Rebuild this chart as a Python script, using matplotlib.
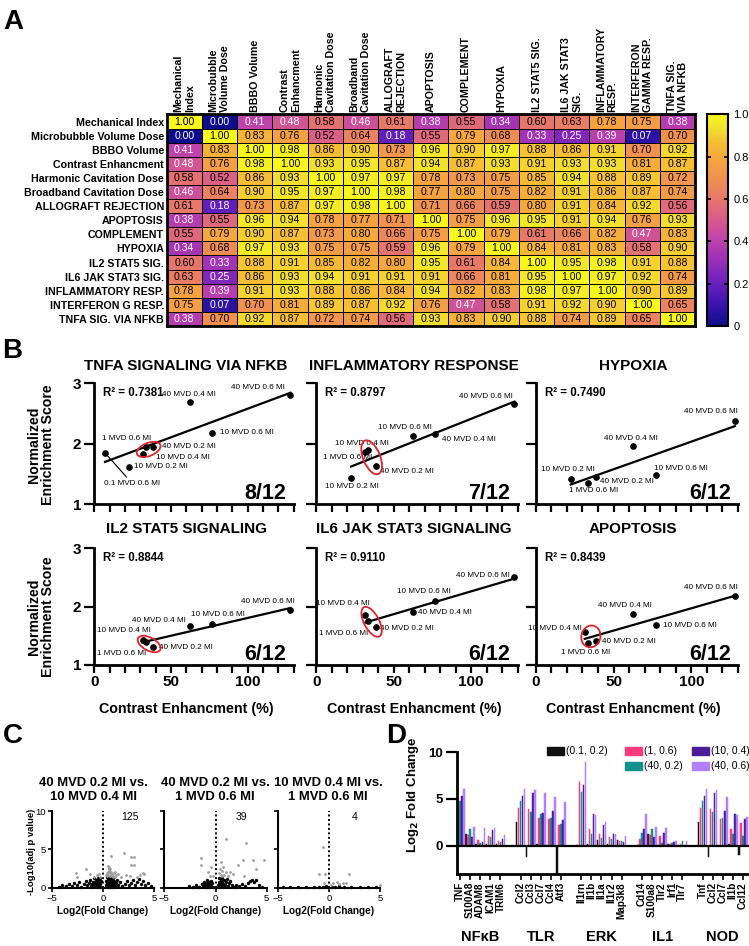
import numpy as np
import matplotlib
matplotlib.use("Agg")
import matplotlib.pyplot as plt
from matplotlib.colors import LinearSegmentedColormap
from matplotlib.patches import Ellipse, Rectangle
from matplotlib.ticker import MultipleLocator
import matplotlib.transforms as mtransforms

plt.rcParams['font.family'] = ['Liberation Sans', 'DejaVu Sans']

# ================= Panel A data =================
heat_rows = ["Mechanical Index", "Microbubble Volume Dose", "BBBO Volume",
             "Contrast Enhancment", "Harmonic Cavitation Dose",
             "Broadband Cavitation Dose", "ALLOGRAFT REJECTION", "APOPTOSIS",
             "COMPLEMENT", "HYPOXIA", "IL2 STAT5 SIG.", "IL6 JAK STAT3 SIG.",
             "INFLAMMATORY RESP.", "INTERFERON G RESP.", "TNFA SIG. VIA NFKB"]
heat_cols = ["Mechanical\nIndex", "Microbubble\nVolume Dose", "BBBO Volume",
             "Contrast\nEnhancment", "Harmonic\nCavitation Dose",
             "Broadband\nCavitation Dose", "ALLOGRAFT\nREJECTION", "APOPTOSIS",
             "COMPLEMENT", "HYPOXIA", "IL2 STAT5 SIG.", "IL6 JAK STAT3\nSIG.",
             "INFLAMMATORY\nRESP.", "INTERFERON\nGAMMA RESP.", "TNFA SIG.\nVIA NFKB"]
corr = np.array([
    [1.00, 0.00, 0.41, 0.48, 0.58, 0.46, 0.61, 0.38, 0.55, 0.34, 0.60, 0.63, 0.78, 0.75, 0.38],
    [0.00, 1.00, 0.83, 0.76, 0.52, 0.64, 0.18, 0.55, 0.79, 0.68, 0.33, 0.25, 0.39, 0.07, 0.70],
    [0.41, 0.83, 1.00, 0.98, 0.86, 0.90, 0.73, 0.96, 0.90, 0.97, 0.88, 0.86, 0.91, 0.70, 0.92],
    [0.48, 0.76, 0.98, 1.00, 0.93, 0.95, 0.87, 0.94, 0.87, 0.93, 0.91, 0.93, 0.93, 0.81, 0.87],
    [0.58, 0.52, 0.86, 0.93, 1.00, 0.97, 0.97, 0.78, 0.73, 0.75, 0.85, 0.94, 0.88, 0.89, 0.72],
    [0.46, 0.64, 0.90, 0.95, 0.97, 1.00, 0.98, 0.77, 0.80, 0.75, 0.82, 0.91, 0.86, 0.87, 0.74],
    [0.61, 0.18, 0.73, 0.87, 0.97, 0.98, 1.00, 0.71, 0.66, 0.59, 0.80, 0.91, 0.84, 0.92, 0.56],
    [0.38, 0.55, 0.96, 0.94, 0.78, 0.77, 0.71, 1.00, 0.75, 0.96, 0.95, 0.91, 0.94, 0.76, 0.93],
    [0.55, 0.79, 0.90, 0.87, 0.73, 0.80, 0.66, 0.75, 1.00, 0.79, 0.61, 0.66, 0.82, 0.47, 0.83],
    [0.34, 0.68, 0.97, 0.93, 0.75, 0.75, 0.59, 0.96, 0.79, 1.00, 0.84, 0.81, 0.83, 0.58, 0.90],
    [0.60, 0.33, 0.88, 0.91, 0.85, 0.82, 0.80, 0.95, 0.61, 0.84, 1.00, 0.95, 0.98, 0.91, 0.88],
    [0.63, 0.25, 0.86, 0.93, 0.94, 0.91, 0.91, 0.91, 0.66, 0.81, 0.95, 1.00, 0.97, 0.92, 0.74],
    [0.78, 0.39, 0.91, 0.93, 0.88, 0.86, 0.84, 0.94, 0.82, 0.83, 0.98, 0.97, 1.00, 0.90, 0.89],
    [0.75, 0.07, 0.70, 0.81, 0.89, 0.87, 0.92, 0.76, 0.47, 0.58, 0.91, 0.92, 0.90, 1.00, 0.65],
    [0.38, 0.70, 0.92, 0.87, 0.72, 0.74, 0.56, 0.93, 0.83, 0.90, 0.88, 0.74, 0.89, 0.65, 1.00]])
cbar_ticks = [0, 0.2, 0.4, 0.6, 0.8, 1.0]
cbar_ticklabels = ["0", "0.2", "0.4", "0.6", "0.8", "1.0"]

# ================= Panel B data =================
group_names = ["0.1 MVD 0.6 MI", "10 MVD 0.2 MI", "10 MVD 0.4 MI", "1 MVD 0.6 MI",
               "40 MVD 0.2 MI", "40 MVD 0.4 MI", "10 MVD 0.6 MI", "40 MVD 0.6 MI"]
contrast_enh = [7, 22.5, 31.5, 33.5, 38.5, 62.5, 77, 128]
nan = np.nan
nes_tnfa    = [1.85, 1.62, 1.83, 1.94, 1.95, 2.69, 2.18, 2.80]
nes_inflam  = [nan, 1.43, 1.86, 1.89, 1.63, 2.13, 2.17, 2.66]
nes_hypoxia = [nan, 1.41, nan, 1.36, 1.45, 1.96, 1.48, 2.38]
nes_il2     = [nan, nan, 1.43, 1.40, 1.30, 1.67, 1.70, 1.94]
nes_il6     = [nan, nan, 1.86, 1.76, 1.65, 1.91, 2.10, 2.50]
nes_apop    = [nan, nan, 1.56, 1.37, 1.41, 1.87, 1.68, 2.19]
b_titles = ["TNFA SIGNALING VIA NFKB", "INFLAMMATORY RESPONSE", "HYPOXIA",
            "IL2 STAT5 SIGNALING", "IL6 JAK STAT3 SIGNALING", "APOPTOSIS"]
b_r2 = ["0.7381", "0.8797", "0.7490", "0.8844", "0.9110", "0.8439"]
b_counts = ["8/12", "7/12", "6/12", "6/12", "6/12", "6/12"]
cluster_idx = [2, 3, 4]   # circled groups

# ================= Panel C data =================
volc_titles = ["40 MVD 0.2 MI vs.\n10 MVD 0.4 MI", "40 MVD 0.2 MI vs.\n1 MVD 0.6 MI",
               "10 MVD 0.4 MI vs.\n1 MVD 0.6 MI"]
volc_counts = ["125", "39", "4"]
volc1_gray = np.array([(2.0, 4.5), (0.75, 4.1), (2.7, 3.95), (3.0, 3.95), (2.7, 3.0), (3.0, 3.0),
    (0.6, 2.7), (0.7, 2.5), (0.55, 2.2), (0.35, 1.95), (0.85, 1.85), (1.15, 2.1), (1.5, 1.8),
    (1.0, 1.5), (0.4, 1.5), (-1.65, 2.5), (-2.6, 1.95), (-2.5, 1.45), (-0.85, 1.45), (-1.25, 1.8),
    (3.9, 1.95), (3.6, 1.65), (3.3, 1.45), (4.0, 1.8), (-0.3, 1.45), (1.8, 1.45), (0.3, 1.6),
    (0.45, 2.0), (0.5, 1.7), (0.6, 2.4), (0.7, 1.55), (0.8, 2.1), (0.9, 1.65), (1.1, 1.9),
    (1.3, 1.6), (0.45, 2.8), (0.55, 2.6), (0.65, 1.9), (0.95, 1.4), (1.2, 1.45), (2.2, 1.6),
    (2.6, 1.5), (-0.6, 1.6), (-0.4, 1.8)])
volc1_black = np.array([(-4.3, 0.15), (-4.0, 0.35), (-3.6, 0.2), (-3.3, 0.45), (-3.0, 0.25),
    (-2.8, 0.6), (-2.5, 0.3), (-2.3, 0.75), (-2.1, 0.15), (-1.9, 0.5), (-1.7, 0.9), (-1.6, 0.3),
    (-1.4, 0.65), (-1.3, 1.0), (-1.2, 0.2), (-1.1, 0.5), (-1.0, 0.8), (-0.9, 1.2), (-0.85, 0.35),
    (-0.8, 0.65), (-0.7, 1.0), (-0.65, 0.2), (-0.6, 0.5), (-0.55, 0.85), (-0.5, 1.3), (-0.45, 0.3),
    (-0.4, 0.7), (-0.35, 1.05), (-0.3, 0.15), (-0.25, 0.5), (-0.2, 0.9), (0.25, 0.4), (0.3, 0.9),
    (0.35, 1.4), (0.4, 0.2), (0.45, 0.65), (0.5, 1.1), (0.55, 0.35), (0.6, 0.8), (0.65, 1.3),
    (0.7, 0.1), (0.75, 0.55), (0.8, 1.0), (0.85, 0.3), (0.9, 0.7), (1.0, 1.2), (1.05, 0.45),
    (1.1, 0.9), (1.2, 0.2), (1.3, 0.6), (1.4, 1.0), (1.5, 0.35), (1.7, 0.7), (1.9, 0.25),
    (2.1, 0.5), (2.3, 0.9), (2.5, 0.3), (2.7, 0.6), (2.9, 1.0), (3.1, 0.4), (3.3, 0.8),
    (3.5, 1.1), (3.7, 0.5), (3.9, 0.9), (4.1, 0.3), (4.4, 0.6), (4.7, 0.2),
    (-0.75, 0.45), (-0.5, 0.1), (-0.3, 1.2), (0.35, 0.6), (0.6, 1.15), (0.95, 0.15),
    (-1.05, 0.15), (-0.95, 0.6), (0.5, 0.05), (0.75, 0.85)])
volc2_gray = np.array([(1.0, 6.3), (3.0, 5.8), (-1.45, 3.9), (2.15, 3.0), (2.7, 3.6), (3.7, 3.6),
    (4.75, 3.6), (-0.45, 2.75), (-1.45, 2.95), (0.55, 3.3), (0.7, 2.75), (0.65, 2.2), (1.0, 2.0),
    (1.4, 2.1), (1.75, 1.85), (2.8, 1.5), (-0.2, 1.55), (-0.7, 2.1), (4.0, 2.5), (0.5, 1.65),
    (0.35, 1.9), (0.6, 1.5), (0.85, 1.7), (1.2, 1.5), (0.45, 2.4), (-0.5, 1.5)])
volc2_black = np.array([(-1.9, 0.3), (-1.6, 0.15), (-1.3, 0.5), (-1.2, 0.2), (-1.1, 0.8),
    (-1.0, 0.4), (-0.9, 0.1), (-0.85, 0.65), (-0.8, 1.0), (-0.7, 0.3), (-0.65, 0.75), (-0.6, 0.15),
    (-0.5, 0.5), (-0.45, 0.9), (-0.4, 0.25), (-0.3, 0.6), (-0.25, 0.1), (0.25, 0.3), (0.3, 0.8),
    (0.35, 1.2), (0.4, 0.1), (0.45, 0.55), (0.5, 1.0), (0.55, 0.3), (0.6, 0.7), (0.65, 1.3),
    (0.7, 0.15), (0.75, 0.5), (0.8, 0.95), (0.9, 0.3), (1.0, 0.7), (1.1, 1.1), (1.2, 0.2),
    (1.3, 0.55), (1.45, 0.9), (1.6, 0.3), (1.8, 0.15), (2.0, 0.4), (2.3, 0.2), (2.6, 0.5),
    (2.9, 0.25), (3.2, 0.6), (3.4, 0.9), (3.6, 1.0), (3.8, 0.8), (4.0, 1.05), (4.2, 0.3),
    (4.5, 0.15), (-2.2, 0.1), (-2.6, 0.2)])
volc3_gray = np.array([(-0.6, 5.3), (-1.0, 1.8), (-0.4, 1.8), (2.0, 1.8), (0.75, 0.8), (1.4, 0.65),
    (1.7, 0.55), (0.4, 0.55), (-0.5, 0.65), (5.0, 0.35), (1.0, 0.45), (0.2, 0.35)])
volc3_black = np.array([(-4.5, 0.05), (-3.8, 0.1), (-3.0, 0.05), (-2.2, 0.1), (-1.5, 0.08),
    (-1.0, 0.15), (-0.6, 0.1), (-0.3, 0.2), (0.3, 0.15), (0.6, 0.1), (1.0, 0.2), (1.5, 0.1),
    (2.2, 0.08), (3.0, 0.05), (3.8, 0.1), (4.6, 0.05)])

# ================= Panel D data =================
d_genes = ["TNF", "S100A8", "ADAM8", "ICAM1", "TRIM6",
           "Ccl2", "Ccl3", "Ccl7", "Ccl4", "Atf3",
           "Il1rn", "Il1b", "Il1a", "Il1r2", "Map3k8",
           "Cd14", "S100a8", "Tlr2", "Irf1", "Tlr7",
           "Tnf", "Ccl2", "Ccl7", "Il1b", "Ccl12"]
d_groups = ["NFκB", "TLR", "ERK", "IL1", "NOD"]
d_series_labels = ["(0.1, 0.2)", "(1, 0.6)", "(40, 0.2)", "(10, 0.4)", "(40, 0.6)"]
d_series_colors = ["#111111", "#ff3a7c", "#12908b", "#4b1d98", "#b37fff"]
lfc_01_02 = [2.5, 1.3, 0.2, 0.2, 0.2, 2.5, -1.2, 0.2, 0.1, -3.2, 0.1, 0.2, 0.6, 0.2, 0.6,
             0.1, 1.3, 0.1, 0.2, 0.1, 2.5, -1.2, 0.1, 0.2, -1.0]
lfc_1_06 = [4.0, 1.1, 0.6, 1.0, 0.5, 4.0, 3.9, 3.0, 2.9, 2.2, 6.8, 1.8, 1.2, 0.9, 0.5,
            0.7, 1.1, 1.0, 0.2, 0.2, 4.0, 3.9, 2.9, 1.8, 2.4]
lfc_40_02 = [4.8, 1.8, 0.3, 0.9, 0.4, 4.8, 3.6, 3.4, 3.0, 2.3, 5.7, 1.2, 0.8, 0.7, 0.5,
             1.4, 1.8, 0.3, 0.3, 0.5, 4.8, 3.6, 3.0, 1.2, 1.0]
lfc_10_04 = [5.3, 0.9, 0.4, 1.7, 0.7, 5.3, 5.6, 3.5, 3.7, 2.8, 6.5, 3.4, 2.2, 1.3, 0.4,
             1.8, 0.9, 1.4, 0.4, 0.1, 5.3, 5.6, 3.7, 3.4, 2.9]
lfc_40_06 = [6.1, 2.0, 1.9, 1.9, 1.1, 6.1, 6.0, 5.6, 5.2, 4.7, 9.0, 3.3, 2.5, 1.2, 1.0,
             3.4, 2.0, 1.9, 0.5, 0.5, 6.1, 6.0, 5.2, 3.3, 3.1]

# ================= figure helpers =================
W, H = 749, 946
fig = plt.figure(figsize=(W / 100, H / 100), dpi=100)


def add_ax(l, t, r, b):
    return fig.add_axes([l / W, 1 - b / H, (r - l) / W, (b - t) / H])


def ftext(x, y, s, **kw):
    return fig.text(x / W, 1 - y / H, s, **kw)


# panel letters
for letter, (lx, ly) in zip("ABCD", [(3, 29), (2, 358), (3, 743), (386, 743)]):
    ftext(lx, ly, letter, fontsize=20, fontweight='bold', va='baseline', ha='left')

# ================= Panel A =================
cmap = LinearSegmentedColormap.from_list('hm', [
    (0.0, '#0d0d8c'), (0.1, '#3a14ad'), (0.2, '#6a20be'), (0.33, '#a233b6'),
    (0.42, '#c245a8'), (0.5, '#d75a8c'), (0.6, '#e6766c'), (0.7, '#f09150'),
    (0.8, '#f5a83c'), (0.88, '#f6c232'), (0.94, '#f2e22e'), (1.0, '#f7f71c')])
n = len(heat_rows)
axA = add_ax(166.7, 114.5, 695, 326)
mesh = axA.pcolormesh(np.arange(n + 1), np.arange(n + 1), corr, cmap=cmap, vmin=0, vmax=1,
                      edgecolors='k', linewidth=0.7)
axA.set_xlim(0, n)
axA.set_ylim(n, 0)
for i in range(n):
    for j in range(n):
        v = corr[i, j]
        axA.text(j + 0.5, i + 0.5, f"{v:.2f}", ha='center', va='center', fontsize=7.6,
                 color='white' if v < 0.5 else 'black')
axA.set_yticks(np.arange(n) + 0.5)
axA.set_yticklabels(heat_rows, fontsize=7.7, fontweight='bold')
axA.xaxis.tick_top()
axA.set_xticks(np.arange(n) + 0.5)
axA.set_xticklabels(heat_cols, fontsize=7.7, fontweight='bold', rotation=90)
for lab in axA.get_xticklabels():
    lab.set_multialignment('left')
axA.tick_params(length=0, pad=2)
for sp in axA.spines.values():
    sp.set_linewidth(2)

cax = add_ax(707, 114.5, 728, 326)
cb = fig.colorbar(mesh, cax=cax, ticks=cbar_ticks)
cb.ax.set_yticklabels(cbar_ticklabels, fontsize=8)
cb.outline.set_linewidth(1.5)
cax.tick_params(axis='y', direction='in', left=True, right=True, length=3, width=1.2, pad=4)

# ================= Panel B =================
b_data = [nes_tnfa, nes_inflam, nes_hypoxia, nes_il2, nes_il6, nes_apop]
col_lr = [(94.3, 293.5), (316.2, 517.5), (535.7, 738)]
row_tb = [(383.3, 504.3), (548.3, 665)]
title_cx = [186, 414, 633]
title_cy = [366.5, 529]
# label offsets (pixels) per panel: group index -> (dx, dy, ha)
b_label_pos = [
    {0: (-1, -27, 'left'), 1: (5, 0, 'left'), 2: (13, -3.5, 'left'), 3: (6, 9, 'right'),
     4: (9, 0, 'left'), 5: (-1, 8, 'center'), 6: (8, 0, 'left'), 7: (-6, 8, 'right')},
    {1: (1, -8, 'center'), 2: (-3, 9, 'center'), 3: (4, -7, 'right'), 4: (4, -5, 'left'),
     5: (29, -4, 'left'), 6: (-30, 6, 'center'), 7: (-2, 7, 'right')},
    {1: (-3, 9.5, 'center'), 3: (6, -8, 'center'), 4: (4, -4, 'left'), 5: (-2, 8, 'center'),
     6: (-2, 7, 'left'), 7: (3, 9, 'right')},
    {2: (-19, 9, 'center'), 3: (-24, -12, 'center'), 4: (6, 0, 'left'), 5: (-4, 5, 'right'),
     6: (6, 10, 'center'), 7: (4, 8.5, 'right')},
    {2: (5, 11.5, 'right'), 3: (0, -12.5, 'right'), 4: (4, -1, 'left'), 5: (5, -1, 'left'),
     6: (-11, 9, 'center'), 7: (-5, 1.5, 'right')},
    {2: (-3, 3.5, 'right'), 3: (-2, -9, 'center'), 4: (6, -0.5, 'left'), 5: (-8, 9, 'center'),
     6: (7, 0, 'left'), 7: (3, 8, 'right')},
]
# ellipse: (dx px, dy px, width px, height px, angle) around circled cluster
b_ellipse = [(1.5, 0, 25, 13, 22), (2, -1, 36, 17, -68), None,
             (2, -1, 25, 13, -28), (2, -1, 33, 15, -62), (1.5, 2.5, 22, 19, 75)]

ce = np.array(contrast_enh, dtype=float)
for k in range(6):
    r, c = divmod(k, 3)
    l, rr = col_lr[c]
    t, b = row_tb[r]
    ax = add_ax(l, t, rr, b)
    y = np.array(b_data[k], dtype=float)
    ok = ~np.isnan(y)
    xs, ys = ce[ok], y[ok]
    slope, icpt = np.polyfit(xs, ys, 1)
    xl = np.array([xs.min(), xs.max()])
    ax.plot(xl, slope * xl + icpt, color='k', lw=1.6, zorder=2)
    ax.plot(xs, ys, 'o', color='k', ms=3.8, zorder=3, clip_on=False)
    for gi, (dx, dy, ha) in b_label_pos[k].items():
        kw = {}
        if gi == 0 and k == 0:
            kw['arrowprops'] = dict(arrowstyle='-', color='k', lw=0.8, shrinkA=0, shrinkB=2)
        ax.annotate(group_names[gi], (ce[gi], y[gi]), xytext=(dx, dy),
                    textcoords='offset pixels', ha=ha, va='center' if gi or k else 'top',
                    fontsize=5.9, annotation_clip=False, **kw)
    el = b_ellipse[k]
    if el is not None:
        cx = ce[cluster_idx].mean()
        cy = y[cluster_idx].mean()
        tr = fig.dpi_scale_trans + mtransforms.ScaledTranslation(cx, cy, ax.transData)
        e = Ellipse((el[0] / 100, el[1] / 100), el[2] / 100, el[3] / 100, angle=el[4],
                    fill=False, ec='#e3222b', lw=1.3, transform=tr, clip_on=False, zorder=4)
        ax.add_patch(e)
    ax.set_xlim(0, 130)
    ax.set_ylim(1, 3)
    for s in ['top', 'right']:
        ax.spines[s].set_visible(False)
    for s in ['left', 'bottom']:
        ax.spines[s].set_linewidth(2)
    ax.set_xticks([0, 50, 100])
    ax.xaxis.set_minor_locator(MultipleLocator(10))
    ax.set_yticks([1, 2, 3])
    ax.tick_params(axis='x', which='both', length=5.5, width=1.6, direction='out')
    ax.tick_params(axis='y', length=7.5, width=1.6, direction='out')
    ax.tick_params(labelsize=11, pad=2)
    for lab in ax.get_xticklabels() + ax.get_yticklabels():
        lab.set_fontweight('bold')
    if r == 0:
        ax.set_xticklabels([])
    if c > 0:
        ax.set_yticklabels([])
    ax.text(0.045, (b - t - 10) / (b - t), f"R² = {b_r2[k]}", transform=ax.transAxes,
            fontsize=8.3, fontweight='bold', va='center', ha='left')
    ax.text(1 - 7 / (rr - l), 5 / (b - t), b_counts[k], transform=ax.transAxes,
            fontsize=15.5, fontweight='bold', va='baseline', ha='right')
    ftext(title_cx[c], title_cy[r], b_titles[k], fontsize=11, fontweight='bold',
          ha='center', va='center')

for cy in [445, 617]:
    ftext(41, cy, "Normalized\nEnrichment Score", rotation=90, fontsize=10.2,
          fontweight='bold', ha='center', va='center', linespacing=1.05)
for cx in title_cx:
    ftext(cx, 709, "Contrast Enhancment (%)", fontsize=10.3, fontweight='bold',
          ha='center', va='center')

# ================= Panel C =================
volc_lr = [(51.7, 154.3), (164.3, 266.7), (277.7, 380)]
volc_title_cx = [93, 215, 328]
volc_gray = [volc1_gray, volc2_gray, volc3_gray]
volc_black = [volc1_black, volc2_black, volc3_black]
volc_count_x = [130, 241.7, 354.3]
for k in range(3):
    l, rr = volc_lr[k]
    ax = add_ax(l, 811, rr, 887.7)
    ax.scatter(volc_black[k][:, 0], volc_black[k][:, 1], s=6, c='k', lw=0,
               clip_on=False, zorder=2)
    ax.scatter(volc_gray[k][:, 0], volc_gray[k][:, 1], s=4, c='#9c9c9c', lw=0,
               clip_on=False, zorder=3)
    ax.axvline(0, color='k', ls=(0, (1, 1.3)), lw=1.4, zorder=1)
    ax.set_xlim(-5, 5)
    ax.set_ylim(0, 10)
    ax.set_xticks([-5, 0, 5])
    ax.set_yticks([0, 5, 10])
    for s in ['top', 'right']:
        ax.spines[s].set_visible(False)
    for s in ['left', 'bottom']:
        ax.spines[s].set_linewidth(1.5)
    ax.tick_params(length=3, width=1.2, labelsize=6.8, pad=1.5)
    if k > 0:
        ax.set_yticklabels([])
    ax.set_xlabel("Log2(Fold Change)", fontsize=7.2, fontweight='bold', labelpad=2)
    ftext(volc_title_cx[k], 789.7, volc_titles[k], fontsize=9.4, fontweight='bold',
          ha='center', va='center', linespacing=1.2)
    ftext(volc_count_x[k], 817.3, volc_counts[k], fontsize=7.5, ha='center', va='center')
ftext(31.5, 852, "-Log10(adj p value)", rotation=90, fontsize=6.8, fontweight='bold',
      ha='center', va='center')

# ================= Panel D =================
axD = add_ax(456.7, 752.3, 749, 873.7)
slots = np.array([g * 6 + i for g in range(len(d_groups)) for i in range(5)], dtype=float)
d_series = [lfc_01_02, lfc_1_06, lfc_40_02, lfc_10_04, lfc_40_06]
step, bw = 0.2, 0.15
for k, (vals, col) in enumerate(zip(d_series, d_series_colors)):
    axD.bar(slots + (k - 2) * step, vals, width=bw, color=col, ec=col, lw=0.35, zorder=2)
axD.axhline(0, color='k', lw=1.6, zorder=3)
axD.set_xlim(-0.33, 28.6)
axD.set_ylim(-3, 10)
axD.set_yticks([0, 5, 10])
axD.set_xticks(slots)
axD.set_xticklabels(d_genes, rotation=90, fontsize=7.2, fontweight='bold')
for s in ['top', 'right']:
    axD.spines[s].set_visible(False)
for s in ['left', 'bottom']:
    axD.spines[s].set_linewidth(2)
    axD.spines[s].set_zorder(4)
axD.tick_params(axis='y', length=8, width=1.6, labelsize=9.5, pad=2)
axD.tick_params(axis='x', length=4, width=1.2, pad=2)
for lab in axD.get_yticklabels():
    lab.set_fontweight('bold')
ftext(413.5, 795, "Log$_\\mathbf{2}$ Fold Change", rotation=90, fontsize=9.5,
      fontweight='bold', ha='center', va='center')
blend = mtransforms.blended_transform_factory(axD.transData, fig.transFigure)
for g, name in enumerate(d_groups):
    axD.text(g * 6 + 2, 1 - 937 / H, name, transform=blend, fontsize=10.5,
             fontweight='bold', ha='center', va='center', clip_on=False)

# legend (manual layout, 3 columns)
leg_slots = [(546.7, 750.7), (625, 750.7), (625, 765.7), (691.7, 750.7), (691.7, 765.7)]
for (lx, ly), lab, col in zip(leg_slots, d_series_labels, d_series_colors):
    fig.add_artist(Rectangle((lx / W, 1 - (ly + 4) / H), 17 / W, 8 / H, color=col,
                             transform=fig.transFigure))
    ftext(lx + 19, ly, lab, fontsize=7.5, ha='left', va='center')

fig.savefig("out.png", dpi=100)
